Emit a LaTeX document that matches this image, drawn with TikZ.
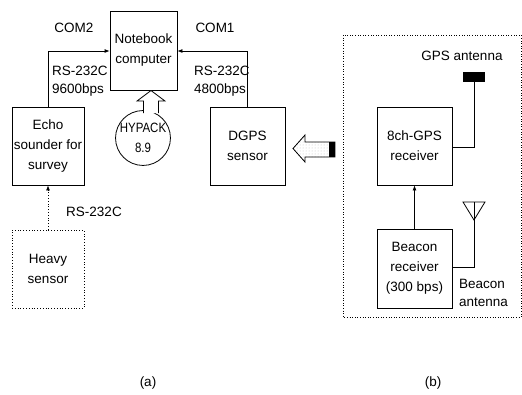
\documentclass[tikz,border=0pt]{standalone}
\usepackage{fontspec}
\setmainfont{Liberation Sans}
\newfontfamily\narrowfont[FakeStretch=0.85]{Liberation Sans}
\usetikzlibrary{arrows.meta,patterns}
\begin{document}
\begin{tikzpicture}[x=1pt,y=-1pt,
  box/.style={draw,line width=0.8pt,rectangle,align=center,inner sep=1pt,font=\fontsize{13.5}{20}\selectfont},
  dbox/.style={box,dotted},
  lbl/.style={font=\fontsize{13.5}{18}\selectfont,inner sep=0pt},
  conn/.style={line width=0.8pt,-{Latex[length=5pt,width=4pt]}},
  wire/.style={line width=0.8pt}]
\useasboundingbox (0,0) rectangle (522,394);
% part (a)
\node[box,minimum width=67pt,minimum height=79pt] (nb) at (143.5,50.5) {Notebook\\computer};
\node[box,minimum width=72pt,minimum height=78pt] (echo) at (48,146) {Echo\\sounder for\\survey};
\node[box,minimum width=75pt,minimum height=78pt] (dgps) at (247.5,146) {DGPS\\sensor};
\node[dbox,minimum width=72pt,minimum height=78pt] (heavy) at (48,269) {Heavy\\sensor};
\node[box,circle,minimum size=50pt,inner sep=0pt,font=\narrowfont\fontsize{13.5}{20}\selectfont] (hyp) at (143,138) {HYPACK\\8.9};
\coordinate (c2) at (echo.north |- 0,51);
\coordinate (c1) at (dgps.north |- 0,51);
\draw[conn] (echo.north) -- (c2) -- (c2 -| nb.west);
\draw[conn] (dgps.north) -- (c1) -- (c1 -| nb.east);
\draw[line width=0.8pt,dotted,-{Latex[length=5pt,width=4pt]}] (heavy.north) -- (echo.south);
\node[lbl] (com2) at (74,28) {COM2};
\node[lbl] (com1) at (215,28) {COM1};
\node[lbl,align=left,anchor=west] (rs2) at (52,81) {RS-232C\\9600bps};
\node[lbl,align=left,anchor=west] (rs1) at (194,81) {RS-232C\\4800bps};
\node[lbl] (rs3) at (94,212) {RS-232C};
% hollow up arrow
\draw[line width=0.8pt,fill=white] (143.5,113) -- (143.5,101) -- (137,101) -- (151,90.5) -- (165,101) -- (158.5,101) -- (158.5,113);
% part (b)
\draw[line width=0.6pt,dotted] (343,35) rectangle (521,317);
\node[box,minimum width=75pt,minimum height=78pt] (gps) at (414.5,146) {8ch-GPS\\receiver};
\node[box,minimum width=75pt,minimum height=79pt] (beacon) at (414.5,268.5) {Beacon\\receiver\\(300 bps)};
\draw[conn] (beacon.north) -- (gps.south);
\node[draw,fill=black,minimum width=21pt,minimum height=9pt,inner sep=0pt] (gant) at (474,76.5) {};
\draw[wire] (gant.south) |- (gps.east |- 0,147);
\coordinate (bapex) at (474,220);
\draw[wire] (463,202) -- (485,202) -- (bapex) -- cycle;
\draw[wire] (474,202) -- (bapex);
\draw[wire] (bapex) |- (beacon.east |- 0,267);
\node[lbl] (gantl) at (462,56) {GPS antenna};
\node[lbl,align=left,anchor=west] (bantl) at (459,293) {Beacon\\antenna};
% hollow left arrow
\draw[line width=0.8pt,pattern=dots,pattern color=gray!50] (335,142) -- (305,142) -- (305,135) -- (293,148.5) -- (305,162) -- (305,157) -- (335,157) -- cycle;
\fill (329,142) rectangle (335,157);
% captions
\node[lbl] (capa) at (148,383) {(a)};
\node[lbl] (capb) at (433,383) {(b)};
\end{tikzpicture}
\end{document}
